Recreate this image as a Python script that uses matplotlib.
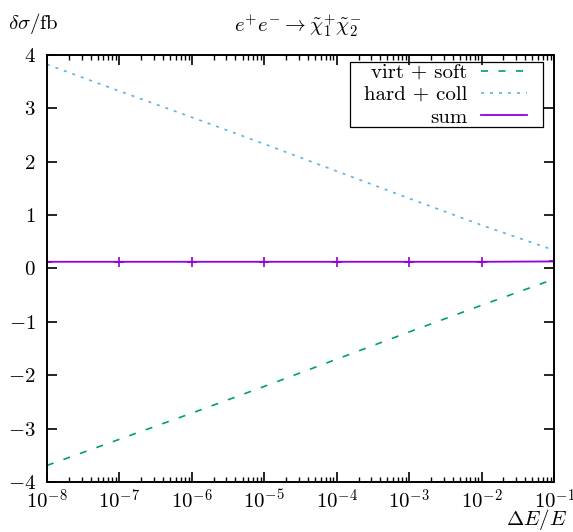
import numpy as np
import matplotlib
matplotlib.use("Agg")
import matplotlib.pyplot as plt
from matplotlib.patches import Rectangle
from matplotlib.ticker import FixedLocator, FixedFormatter, LogLocator, NullFormatter

plt.rcParams['font.family'] = 'serif'
plt.rcParams['font.serif'] = ['cmr10']
plt.rcParams['mathtext.fontset'] = 'cm'
plt.rcParams['axes.unicode_minus'] = False

# cut-off scan: dE/E on a log grid, one point per decade
delta_e = [1e-8, 1e-7, 1e-6, 1e-5, 1e-4, 1e-3, 1e-2, 1e-1]
virt_soft = [-3.69, -3.20, -2.71, -2.21, -1.70, -1.19, -0.69, -0.20]
hard_coll = [3.82, 3.32, 2.83, 2.33, 1.82, 1.31, 0.81, 0.34]
sigma_sum = [0.124, 0.124, 0.124, 0.124, 0.124, 0.124, 0.124, 0.13]

y_ticks = [-4, -3, -2, -1, 0, 1, 2, 3, 4]
x_tick_labels = [r'$10^{-8}$', r'$10^{-7}$', r'$10^{-6}$', r'$10^{-5}$',
                 r'$10^{-4}$', r'$10^{-3}$', r'$10^{-2}$', r'$10^{-1}$']

green = '#009e73'
blue = '#56b4e9'
violet = '#9400d3'
fs = 15

fig = plt.figure(figsize=(5.73, 5.32), dpi=100)
ax = fig.add_axes([0.082, 0.094, 0.885, 0.803])

ax.plot(delta_e, virt_soft, color=green, lw=1.2, ls=(0, (4.2, 6.3)),
        label='virt + soft')
ax.plot(delta_e, hard_coll, color=blue, lw=1.2, ls=(0, (1.8, 3.6)),
        label='hard + coll')
ax.plot(delta_e, sigma_sum, color=violet, lw=1.3, label='sum')
ax.plot(delta_e, sigma_sum, color=violet, ls='none', marker='+', ms=7, mew=1.2)

ax.set_xscale('log')
ax.set_xlim(1e-8, 1e-1)
ax.set_ylim(-4, 4)

ax.xaxis.set_major_locator(FixedLocator(delta_e))
ax.xaxis.set_major_formatter(FixedFormatter(x_tick_labels))
ax.xaxis.set_minor_locator(LogLocator(base=10, subs=np.arange(2, 10)))
ax.xaxis.set_minor_formatter(NullFormatter())
ax.yaxis.set_major_locator(FixedLocator(y_ticks))
ax.yaxis.set_major_formatter(FixedFormatter([r'$%d$' % v for v in y_ticks]))

ax.tick_params(which='both', direction='in', top=True, right=True, labelsize=fs)
ax.tick_params(which='major', length=7, width=1.2)
ax.tick_params(which='minor', length=3.5, width=1.0)
ax.tick_params(axis='x', pad=5)
ax.tick_params(axis='y', pad=8)
for s in ax.spines.values():
    s.set_linewidth(1.4)

fig.text(0.014, 0.955, r'$\delta\sigma/\mathrm{fb}$', fontsize=fs, va='center')
fig.text(0.52, 0.952, r'$e^{+}e^{-} \rightarrow \tilde{\chi}_1^{+}\tilde{\chi}_2^{-}$',
         fontsize=fs, ha='center', va='center')
fig.text(0.99, 0.023, r'$\Delta E/E$', fontsize=fs, ha='right', va='center')

# key box: wide side margins, tight top/bottom
leg = ax.legend(loc='upper right', bbox_to_anchor=(0.946, 0.98), markerfirst=False,
                fontsize=fs, frameon=False, handlelength=2.2,
                borderpad=0.0, labelspacing=0.18, handletextpad=0.65,
                borderaxespad=0.0)
ax.add_patch(Rectangle((0.598, 0.831), 0.38, 0.152, transform=ax.transAxes,
                       fill=False, edgecolor='black', lw=0.9, zorder=5))

fig.savefig('out.png', dpi=100)
